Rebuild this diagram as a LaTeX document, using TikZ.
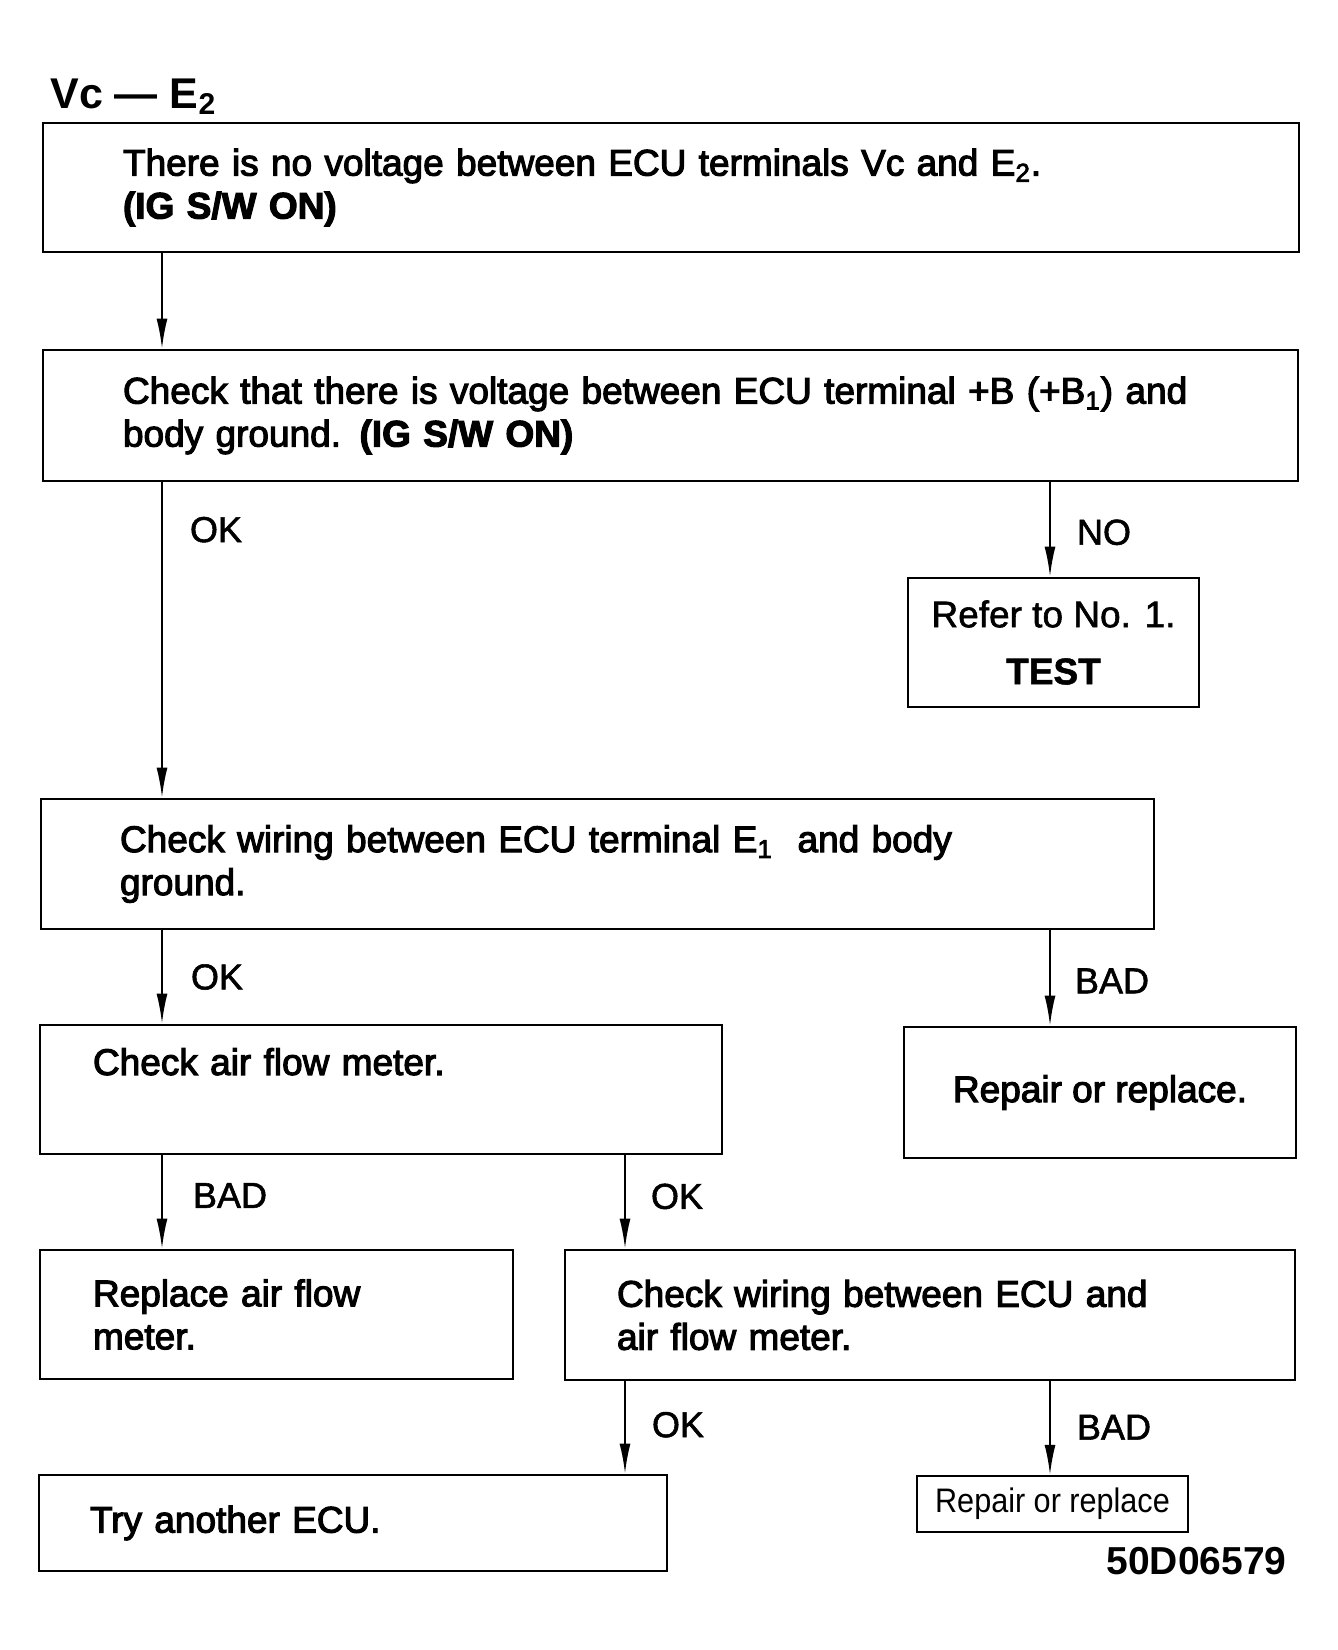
\documentclass[tikz,border=0pt]{standalone}
\usepackage{fontspec}
\setmainfont{Liberation Sans}
\newfontfamily\medfont{Liberation Sans}[FakeBold=3]
\newfontfamily\labfont{Liberation Sans}[FakeBold=1.5]
\newfontfamily\thinfont{Liberation Sans}[FakeStretch=0.9]
\usetikzlibrary{arrows.meta,positioning}

\tikzset{
  box/.style={draw, line width=1.4pt, inner sep=0pt, align=left,
    font=\medfont\fontsize{18.5pt}{21.5pt}\selectfont},
  lab/.style={inner sep=0pt, font=\labfont\fontsize{18pt}{21pt}\selectfont},
  arr/.style={line width=1pt, -{Latex[length=15pt,width=5.5pt]}},
}

\begin{document}
\begin{tikzpicture}[x=0.5pt,y=-0.5pt]
	\useasboundingbox[fill=white] (0,0) rectangle (1338,1650);

	\node (ttl)[anchor=base west, inner sep=0pt, font=\bfseries\fontsize{21.5pt}{24pt}\selectfont] at (50,108) {Vc — E\textsubscript{2}};

	\node (b1)[box, minimum width=628pt, minimum height=64.5pt, text width=548pt] at (671,187.5)
		{There is no voltage between ECU terminals Vc and E\textsubscript{2}.\\ {\bfseries (IG S/W ON)}};
	\node (b2)[box, minimum width=627.5pt, minimum height=65.5pt, text width=547.5pt] at (670.5,415.5)
		{Check that there is voltage between ECU terminal +B (+B\textsubscript{1}) and\\ body ground. {\bfseries (IG S/W ON)}};
	\node (refer)[box, align=center, minimum width=145.5pt, minimum height=64.5pt, font=\labfont\fontsize{18.5pt}{21.5pt}\selectfont] at (1053.5,642.5)
		{Refer to No. 1.\\[7pt] {\bfseries TEST}};
	\node (b3)[box, minimum width=556.5pt, minimum height=65pt, text width=477.5pt] at (597.5,864)
		{Check wiring between ECU terminal E\textsubscript{1}\ \ and body\\ ground.};
	\node (b4)[box, minimum width=341pt, minimum height=64.5pt, text width=288pt] at (381,1089.5)
		{Check air flow meter.\\ \strut};
	\node (repair1)[box, align=center, minimum width=196pt, minimum height=65.5pt] at (1100,1092.5)
		{Repair or replace.};
	\node (b6)[box, minimum width=236.5pt, minimum height=64.5pt, text width=183.5pt] at (276.5,1314.5)
		{Replace air flow\\ meter.};
	\node (b7)[box, minimum width=365pt, minimum height=65pt, text width=313pt] at (930,1315)
		{Check wiring between ECU and\\ air flow meter.};
	\node (b8)[box, minimum width=314pt, minimum height=48pt, text width=263pt] at (353,1523)
		{Try another ECU.};
	\node (repair2)[box, line width=1.2pt, align=center, minimum width=135.5pt, minimum height=28pt, font=\thinfont\fontsize{17pt}{20pt}\selectfont] at (1052.5,1504)
		{Repair or replace};

	\node (code)[anchor=base east, inner sep=0pt, font=\bfseries\fontsize{19.5pt}{22pt}\selectfont] at (1287,1574) {50D06579};

	% arrow columns
	\coordinate (colA) at (162,0);
	\coordinate (colB) at (625,0);
	\coordinate (colC) at (1050,0);

	\draw [arr](b1.south -| colA)--(b2.north -| colA);
	\draw [arr](b2.south -| colA)--(b3.north -| colA) node [lab, pos=.15, right=13.5pt]{OK};
	\draw [arr](b2.south -| colC)--(refer.north -| colC) node [lab, pos=.53, right=13pt]{NO};
	\draw [arr](b3.south -| colA)--(b4.north -| colA) node [lab, midway, right=14pt]{OK};
	\draw [arr](b3.south -| colC)--(repair1.north -| colC) node [lab, pos=.53, right=12pt]{BAD};
	\draw [arr](b4.south -| colA)--(b6.north -| colA) node [lab, pos=.43, right=15pt]{BAD};
	\draw [arr](b4.south -| colB)--(b7.north -| colB) node [lab, pos=.44, right=12.5pt]{OK};
	\draw [arr](b7.south -| colB)--(b8.north -| colB) node [lab, pos=.47, right=13pt]{OK};
	\draw [arr](b7.south -| colC)--(repair2.north -| colC) node [lab, pos=.49, right=13pt]{BAD};
\end{tikzpicture}
\end{document}
